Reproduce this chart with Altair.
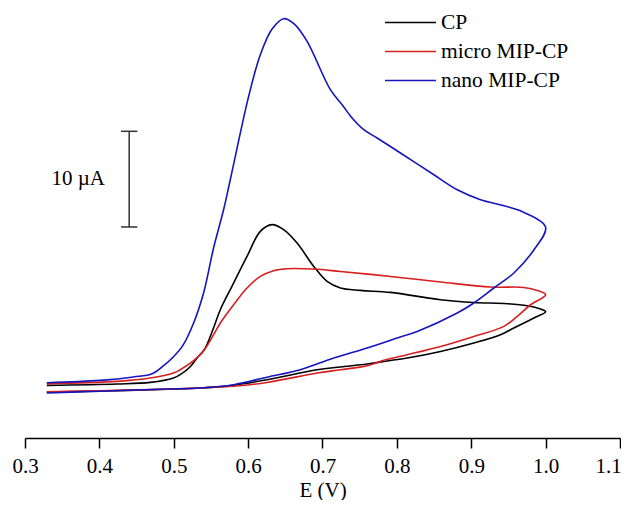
import altair as alt
import pandas as pd

SERIES = ["CP", "micro MIP-CP", "nano MIP-CP"]
COLORS = ["#000000", "#d81e1e", "#1515c0"]
TICKS = [0.3, 0.4, 0.5, 0.6, 0.7, 0.8, 0.9, 1.0, 1.1]

# CP (forward scan then reverse scan), E in V, I in µA (arbitrary offset)
CP_E = [0.3293, 0.4236, 0.4684, 0.4997, 0.5087, 0.5222, 0.5316, 0.5411, 0.5536, 0.5626,
        0.5805, 0.5985, 0.6164, 0.6322, 0.6478, 0.6658, 0.6882, 0.7062, 0.7241, 0.7510,
        0.7914, 0.8587, 0.9035, 0.9485, 0.9753, 0.9933, 1.0,
        0.9843, 0.9573, 0.9394, 0.9035, 0.8587, 0.8139, 0.7847, 0.7600, 0.7241, 0.6927,
        0.6254, 0.5805, 0.5357, 0.4908, 0.4011, 0.3293]
CP_I = [5.50, 5.64, 5.81, 6.27, 6.62, 7.45, 8.39, 9.23, 11.53, 13.41,
        16.20, 18.98, 21.60, 22.30, 21.78, 20.38, 17.94, 16.37, 15.68, 15.43,
        15.22, 14.46, 14.17, 14.04, 13.83, 13.48, 13.20,
        12.54, 11.50, 10.80, 9.93, 9.05, 8.36, 8.03, 7.73, 7.42, 7.14,
        6.09, 5.52, 5.23, 5.10, 4.91, 4.81]

MICRO_E = [0.3293, 0.4236, 0.4684, 0.4997, 0.5087, 0.5267, 0.5411, 0.5536, 0.5626, 0.5805,
           0.5985, 0.6164, 0.6343, 0.6524, 0.6882, 0.7241, 0.7914, 0.8587, 0.9260, 0.9708,
           0.9888, 1.0,
           0.9798, 0.9618, 0.9439, 0.9035, 0.8587, 0.8139, 0.7847, 0.7600, 0.7241, 0.6927,
           0.6254, 0.5805, 0.5357, 0.4908, 0.4011, 0.3293]
MICRO_I = [5.68, 5.92, 6.27, 6.79, 7.14, 8.08, 9.23, 10.80, 12.02, 13.93,
           15.68, 16.89, 17.49, 17.70, 17.66, 17.41, 16.89, 16.31, 15.78, 15.74,
           15.43, 14.98,
           13.93, 12.71, 11.67, 10.62, 9.57, 8.71, 8.18, 7.56, 7.14, 6.79,
           5.81, 5.41, 5.23, 5.10, 4.94, 4.84]

NANO_E = [0.3293, 0.4011, 0.4459, 0.4711, 0.4863, 0.4997, 0.5121, 0.5267, 0.5401, 0.5536,
          0.5670, 0.5760, 0.6007, 0.6164, 0.6322, 0.6478, 0.6622, 0.6793, 0.7106, 0.7264,
          0.7398, 0.7555, 0.7735, 0.8048, 0.8497, 0.8812, 0.9125, 0.9439, 0.9708, 1.0,
          0.9843, 0.9573, 0.9304, 0.9035, 0.8812, 0.8273, 0.8004, 0.7600, 0.7151, 0.6703,
          0.6254, 0.5805, 0.5357, 0.4908, 0.4011, 0.3293]
NANO_I = [5.78, 6.02, 6.38, 6.72, 7.56, 8.50, 9.65, 12.02, 15.16, 19.89,
          23.86, 27.00, 35.71, 40.07, 42.75, 43.83, 43.27, 41.46, 36.41, 34.84,
          33.45, 32.23, 31.36, 29.79, 27.52, 25.95, 24.91, 24.28, 23.58, 22.03,
          19.68, 17.25, 15.68, 14.11, 13.07, 11.14, 10.45, 9.41, 8.36, 7.14,
          6.36, 5.57, 5.23, 5.12, 4.89, 4.70]

# 10 µA scale bar
BAR_E = 0.4401
BAR_LOW = 22.06
BAR_SPAN = 10.0
CAP_HALF = 0.011
BAR_LABEL = "10 µA"
BAR_LABEL_E = 0.3715

rows = []
for name, es, iv in [("CP", CP_E, CP_I), ("micro MIP-CP", MICRO_E, MICRO_I),
                     ("nano MIP-CP", NANO_E, NANO_I)]:
    for k, (e, i) in enumerate(zip(es, iv)):
        rows.append({"series": name, "E": e, "I": i, "k": k})
df = pd.DataFrame(rows)

FONT = "Liberation Serif"
x_scale = alt.Scale(domain=[0.3, 1.1], nice=False, zero=False)
y_scale = alt.Scale(domain=[0, 44.74], nice=False, zero=False)
x_axis = alt.Axis(values=TICKS, format=".1f", title="E (V)", grid=False,
                  labelFlush=False, labelOverlap=False,
                  labelFont=FONT, labelFontSize=21, labelColor="black",
                  labelOffset={"condition": {"test": "datum.value > 1.05", "value": -12},
                               "value": 0},
                  labelPadding=7, tickSize=10, tickWidth=1.5, tickColor="black",
                  domainColor="black", domainWidth=1.5,
                  titleFont=FONT, titleFontSize=21, titleFontWeight="normal",
                  titleColor="black", titleBaseline="alphabetic", titleY=58)

lines = alt.Chart(df).mark_line(strokeWidth=1.6, interpolate="catmull-rom").encode(
    x=alt.X("E:Q", scale=x_scale, axis=x_axis, title="E (V)"),
    y=alt.Y("I:Q", scale=y_scale, axis=None),
    color=alt.Color("series:N", scale=alt.Scale(domain=SERIES, range=COLORS),
                    legend=alt.Legend(title=None, orient="none", legendX=359, legendY=2.5,
                                      symbolType="stroke", symbolSize=2601,
                                      symbolStrokeWidth=1.6, clipHeight=20, rowPadding=7,
                                      labelFont=FONT, labelFontSize=21.5, labelColor="black",
                                      labelOffset=4, padding=0, labelLimit=400)),
    order=alt.Order("k:Q"),
)

bar_df = pd.DataFrame({"E": [BAR_E], "lo": [BAR_LOW], "hi": [BAR_LOW + BAR_SPAN]})
bar = alt.Chart(bar_df).mark_rule(color="#333333", strokeWidth=1.5).encode(
    x=alt.X("E:Q", scale=x_scale, axis=x_axis, title="E (V)"),
    y=alt.Y("lo:Q", scale=y_scale, axis=None),
    y2="hi:Q",
)

caps_df = pd.DataFrame({"E": [BAR_E - CAP_HALF] * 2, "e2": [BAR_E + CAP_HALF] * 2,
                        "I": [BAR_LOW, BAR_LOW + BAR_SPAN]})
caps = alt.Chart(caps_df).mark_rule(color="#333333", strokeWidth=1.5).encode(
    x=alt.X("E:Q", scale=x_scale, axis=x_axis, title="E (V)"),
    x2="e2:Q",
    y=alt.Y("I:Q", scale=y_scale, axis=None),
)

lab_df = pd.DataFrame({"E": [BAR_LABEL_E], "I": [BAR_LOW + BAR_SPAN / 2], "t": [BAR_LABEL]})
lab = alt.Chart(lab_df).mark_text(font=FONT, fontSize=21, align="center",
                                  baseline="middle", color="black").encode(
    x=alt.X("E:Q", scale=x_scale, axis=x_axis, title="E (V)"),
    y=alt.Y("I:Q", scale=y_scale, axis=None),
    text="t:N",
)

chart = alt.layer(lines, bar, caps, lab).properties(
    width=595, height=428,
    autosize=alt.AutoSizeParams(type="none"),
    padding={"left": 17, "top": 2, "right": 1, "bottom": 62},
).configure_view(strokeWidth=0)

chart.save("out.html", embed_options={"renderer": "svg", "actions": False})
